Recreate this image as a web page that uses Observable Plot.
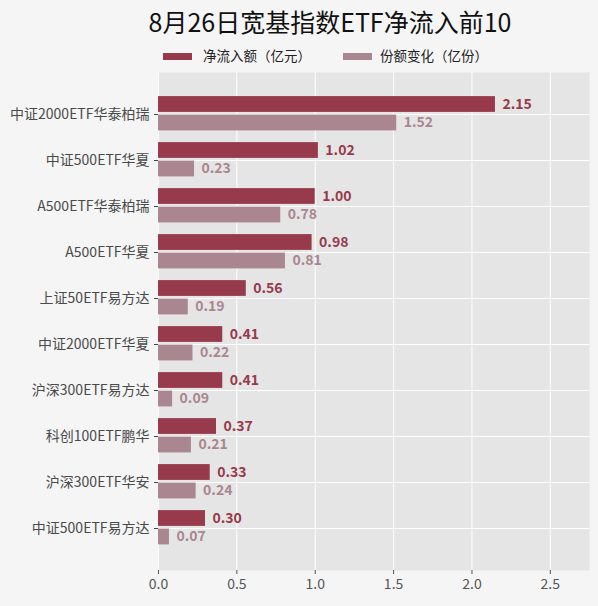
<!DOCTYPE html>
<html>
<head>
<meta charset="utf-8">
<script src="https://cdn.jsdelivr.net/npm/d3@7"></script>
<script src="https://cdn.jsdelivr.net/npm/@observablehq/plot@0.6"></script>
<style>
  html, body { margin: 0; padding: 0; background: #f5f5f5; }
  body { width: 598px; height: 606px; overflow: hidden; font-family: "Noto Sans CJK SC", "Noto Sans", sans-serif; }
  #title { height: 44px; line-height: 42px; font-size: 25px; color: #111; text-align: center; padding-left: 62px; box-sizing: border-box; width: 598px; }
  #legend { height: 22px; position: relative; font-size: 13.5px; color: #222; }
  .sw { position: absolute; top: 9px; width: 29px; height: 7px; }
  .lt { position: absolute; top: 2px; line-height: 18px; }
</style>
</head>
<body>
<div id="title">8月26日宽基指数ETF净流入前10</div>
<div id="legend">
  <div class="sw" style="left:163px;background:#973a4b"></div>
  <div class="lt" style="left:203px">净流入额（亿元）</div>
  <div class="sw" style="left:343px;background:#aa8690"></div>
  <div class="lt" style="left:380px">份额变化（亿份）</div>
</div>
<div id="chart"></div>
<script>
const categories = ["中证2000ETF华泰柏瑞","中证500ETF华夏","A500ETF华泰柏瑞","A500ETF华夏","上证50ETF易方达","中证2000ETF华夏","沪深300ETF易方达","科创100ETF鹏华","沪深300ETF华安","中证500ETF易方达"];
const netInflow = [2.15,1.02,1.00,0.98,0.56,0.41,0.41,0.37,0.33,0.30];
const shareChange = [1.52,0.23,0.78,0.81,0.19,0.22,0.09,0.21,0.24,0.07];
const xTicks = [0, 0.5, 1.0, 1.5, 2.0, 2.5];

const dark = "#973a4b", light = "#aa8690";
const rows = categories.map((c, i) => ({cat: c, net: netInflow[i], share: shareChange[i]}));

const chart = Plot.plot({
  width: 598,
  height: 540,
  marginLeft: 158,
  marginRight: 9,
  marginTop: 6,
  marginBottom: 36,
  style: {background: "transparent", fontFamily: "'Noto Sans CJK SC', sans-serif", fontSize: "14px", color: "#555"},
  x: {domain: [0, 2.75], ticks: xTicks, tickFormat: d3.format(".1f"), tickSize: 4, tickPadding: 5, label: null},
  y: {domain: categories, paddingInner: 0, paddingOuter: 0.38, tickSize: 4, tickPadding: 5, label: null},
  marks: [
    Plot.frame({fill: "#e5e5e5", stroke: null}),
    Plot.gridX({ticks: xTicks, stroke: "white", strokeOpacity: 1, strokeWidth: 1}),
    Plot.gridY({stroke: "white", strokeOpacity: 1, strokeWidth: 1}),
    Plot.barX(rows, {x: "net", y: "cat", fill: dark, insetTop: 5.1, insetBottom: 25.1}),
    Plot.barX(rows, {x: "share", y: "cat", fill: light, insetTop: 23.6, insetBottom: 6.6}),
    Plot.text(rows, {x: "net", y: "cat", text: d => d.net.toFixed(2), dx: 7, dy: -10, textAnchor: "start", fill: dark, fontWeight: "bold", fontSize: 14}),
    Plot.text(rows, {x: "share", y: "cat", text: d => d.share.toFixed(2), dx: 7, dy: 8.5, textAnchor: "start", fill: light, fontWeight: "bold", fontSize: 14}),
    Plot.axisX({ticks: xTicks, tickFormat: d3.format(".1f"), tickSize: 4, tickPadding: 5, fill: "#555", stroke: "#555", fontSize: 14, label: null}),
    Plot.axisY({tickSize: 4, tickPadding: 5, fill: "#4a4a4a", stroke: "#444", fontSize: 14, label: null})
  ]
});
document.getElementById("chart").appendChild(chart);
</script>
</body>
</html>
